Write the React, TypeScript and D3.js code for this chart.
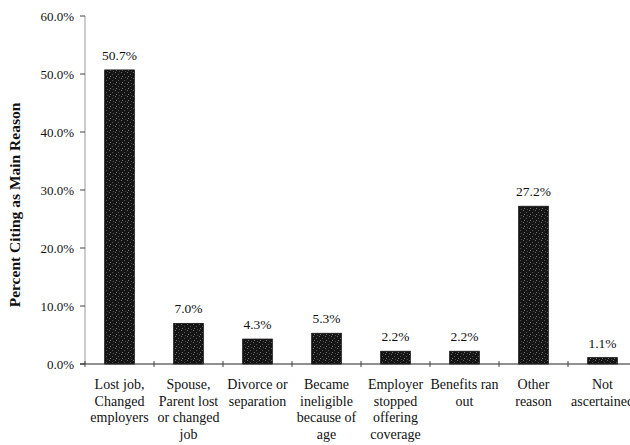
import React from "react";
import * as d3 from "d3";

const categories: string[][] = [
  ["Lost job,", "Changed", "employers"],
  ["Spouse,", "Parent lost", "or changed", "job"],
  ["Divorce or", "separation"],
  ["Became", "ineligible", "because of", "age"],
  ["Employer", "stopped", "offering", "coverage"],
  ["Benefits ran", "out"],
  ["Other", "reason"],
  ["Not", "ascertained"],
];
const values: number[] = [50.7, 7.0, 4.3, 5.3, 2.2, 2.2, 27.2, 1.1];
const yTicks: number[] = [0, 10, 20, 30, 40, 50, 60];

const W = 630;
const H = 445;
const left = 85;
const right = 637;
const top = 16;
const bottom = 364;
const font = "'Liberation Serif', 'Times New Roman', serif";

export default function App() {
  const x = d3
    .scaleBand<number>()
    .domain(values.map((_, i) => i))
    .range([left, right])
    .paddingInner(0.57)
    .paddingOuter(0.285);
  const y = d3.scaleLinear().domain([0, 60]).range([bottom, top]);
  const step = x.step();
  const bounds = d3.range(categories.length + 1).map((i) => left + i * step);

  return (
    <svg
      width={W}
      height={H}
      style={{ position: "absolute", left: 0, top: 0, background: "#fff" }}
      fontFamily={font}
    >
      <defs>
        <pattern id="tex" width="6" height="6" patternUnits="userSpaceOnUse">
          <rect width="6" height="6" fill="#151515" />
          <rect x="1" y="0" width="1" height="1" fill="#6a6a6a" />
          <rect x="4" y="2" width="1" height="1" fill="#555" />
          <rect x="2" y="4" width="1" height="1" fill="#777" />
          <rect x="5" y="5" width="1" height="1" fill="#4a4a4a" />
        </pattern>
      </defs>
      {/* y axis */}
      <line x1={left} x2={left} y1={top} y2={bottom} stroke="#999" strokeWidth={1} />
      {yTicks.map((t) => (
        <g key={t}>
          <line x1={left - 5} x2={left} y1={y(t)} y2={y(t)} stroke="#444" />
          <text
            x={left - 11}
            y={y(t)}
            dy="0.35em"
            textAnchor="end"
            fontSize={13}
            fill="#111"
          >
            {t.toFixed(1) + "%"}
          </text>
        </g>
      ))}
      {/* bars */}
      {values.map((v, i) => (
        <g key={i}>
          <rect
            x={x(i)}
            y={y(v)}
            width={x.bandwidth()}
            height={y(0) - y(v)}
            fill="url(#tex)"
            stroke="#111"
            strokeWidth={0.8}
          />
          <text
            x={(x(i) as number) + x.bandwidth() / 2}
            y={y(v) - 10}
            textAnchor="middle"
            fontSize={13.5}
            fill="#111"
          >
            {v.toFixed(1) + "%"}
          </text>
        </g>
      ))}
      {/* x axis */}
      <line x1={left - 5} x2={W} y1={bottom} y2={bottom} stroke="#222" strokeWidth={1} />
      {bounds.map((b, i) => (
        <line key={i} x1={b} x2={b} y1={bottom - 3} y2={bottom + 3} stroke="#444" />
      ))}
      {/* category labels */}
      {categories.map((lines, i) => (
        <text
          key={i}
          x={(x(i) as number) + x.bandwidth() / 2}
          y={389}
          textAnchor="middle"
          fontSize={14}
          fill="#111"
        >
          {lines.map((l, j) => (
            <tspan key={j} x={(x(i) as number) + x.bandwidth() / 2} dy={j === 0 ? 0 : 16.5}>
              {l}
            </tspan>
          ))}
        </text>
      ))}
      {/* y title */}
      <text
        transform={`translate(20, ${(top + bottom) / 2 + 15}) rotate(-90)`}
        textAnchor="middle"
        fontSize={15.5}
        fontWeight="bold"
        fill="#111"
      >
        Percent Citing as Main Reason
      </text>
    </svg>
  );
}
